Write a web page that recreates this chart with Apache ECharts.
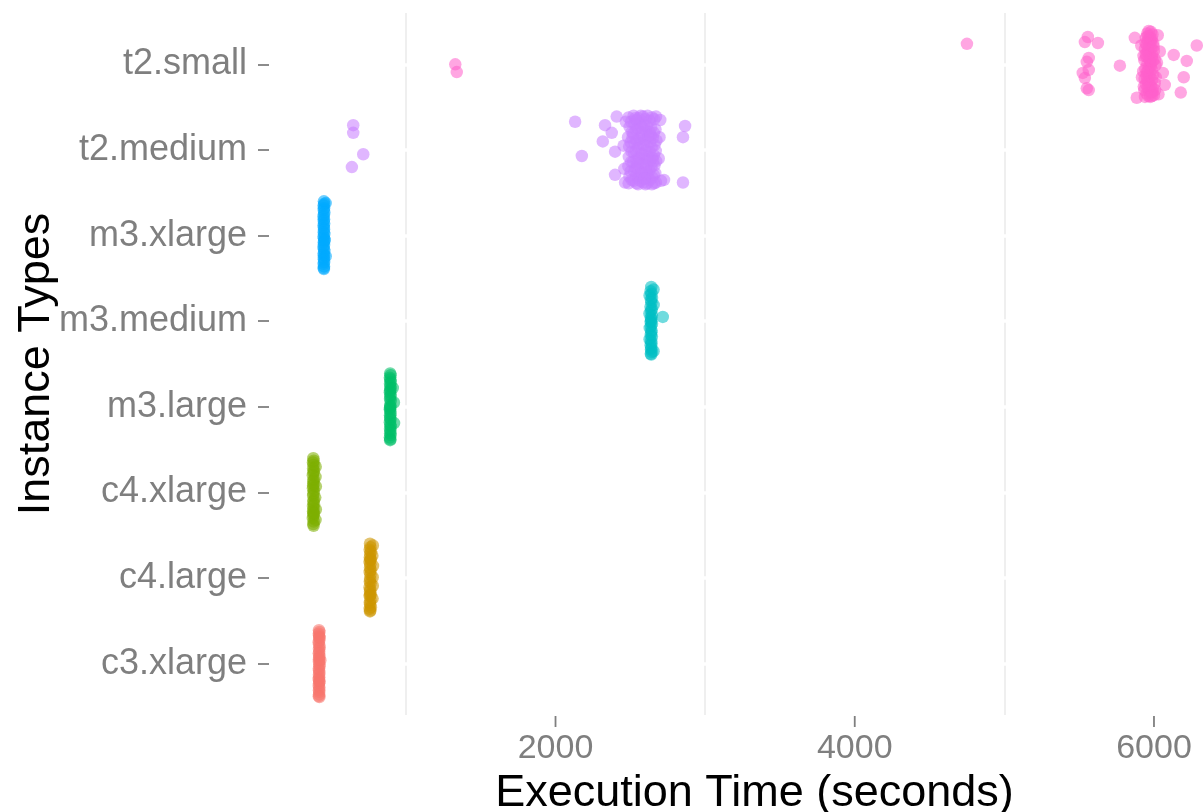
<!DOCTYPE html>
<html>
<head>
<meta charset="utf-8">
<script src="https://cdn.jsdelivr.net/npm/echarts@6/dist/echarts.min.js"></script>
<style>
html,body{margin:0;padding:0;background:#fff;}
#chart{width:1203px;height:812px;}
</style>
</head>
<body>
<div id="chart"></div>
<script>
// Categories, bottom to top
const categories = ['c3.xlarge','c4.large','c4.xlarge','m3.large','m3.medium','m3.xlarge','t2.medium','t2.small'];
const xTickValues = [2000, 4000, 6000];
const xMinorGrid = [1000, 3000, 5000];

// [execution seconds, vertical jitter]
const c3xlarge = [[419,0.39],[422,0.37],[420,0.33],[418,0.35],[423,0.30],[421,0.27],[417,0.25],[420,0.22],[424,0.19],[419,0.17],[421,0.14],[418,0.12],[422,0.09],[420,0.07],[428,0.04],[419,0.02],[421,-0.01],[423,-0.03],[418,-0.06],[420,-0.08],[422,-0.11],[419,-0.13],[421,-0.16],[417,-0.18],[423,-0.21],[420,-0.23],[418,-0.26],[422,-0.28],[419,-0.31],[421,-0.33],[420,-0.36],[418,-0.38],[422,-0.39],[421,0.31],[419,0.05],[420,-0.20]];
const c4large = [[760,0.40],[779,0.38],[763,0.36],[758,0.33],[766,0.31],[761,0.28],[776,0.26],[759,0.24],[764,0.21],[757,0.19],[762,0.16],[780,0.14],[760,0.12],[765,0.09],[758,0.07],[763,0.04],[778,0.01],[761,-0.01],[759,-0.04],[764,-0.06],[779,-0.09],[757,-0.11],[762,-0.14],[760,-0.16],[765,-0.19],[758,-0.21],[777,-0.24],[763,-0.26],[759,-0.29],[761,-0.31],[766,-0.34],[758,-0.36],[762,-0.38],[760,-0.39],[764,0.22],[761,-0.20]];
const c4xlarge = [[381,0.40],[384,0.37],[379,0.35],[383,0.32],[397,0.30],[380,0.28],[385,0.25],[382,0.23],[396,0.18],[378,0.20],[384,0.15],[381,0.13],[398,0.07],[383,0.10],[379,0.05],[385,0.02],[382,-0.01],[394,-0.06],[380,-0.04],[384,-0.09],[381,-0.11],[386,-0.14],[379,-0.16],[398,-0.20],[383,-0.19],[380,-0.22],[385,-0.25],[382,-0.27],[396,-0.32],[378,-0.30],[384,-0.34],[381,-0.37],[383,-0.39],[380,0.08],[382,-0.24]];
const m3large = [[895,0.39],[898,0.37],[893,0.34],[896,0.32],[899,0.29],[894,0.27],[897,0.24],[912,0.22],[895,0.19],[893,0.17],[898,0.14],[896,0.12],[894,0.09],[899,0.07],[920,0.05],[895,0.02],[897,0.00],[893,-0.03],[896,-0.05],[898,-0.08],[894,-0.10],[895,-0.13],[897,-0.15],[921,-0.19],[893,-0.18],[896,-0.21],[899,-0.23],[894,-0.26],[897,-0.28],[895,-0.31],[898,-0.33],[893,-0.36],[896,-0.38],[895,-0.39],[897,0.21],[894,-0.01]];
const m3medium = [[2640,0.40],[2655,0.37],[2636,0.35],[2642,0.32],[2629,0.30],[2645,0.27],[2638,0.25],[2641,0.22],[2656,0.19],[2635,0.17],[2643,0.14],[2639,0.12],[2628,0.09],[2644,0.07],[2637,0.04],[2717,0.05],[2641,0.02],[2636,-0.01],[2645,-0.03],[2638,-0.06],[2630,-0.08],[2642,-0.11],[2640,-0.13],[2637,-0.16],[2644,-0.18],[2629,-0.21],[2639,-0.23],[2642,-0.26],[2636,-0.28],[2641,-0.31],[2638,-0.33],[2643,-0.36],[2637,-0.38],[2640,-0.39],[2655,-0.35],[2639,0.00]];
const m3xlarge = [[452,0.40],[454,0.37],[450,0.35],[453,0.32],[451,0.30],[464,0.38],[455,0.27],[452,0.24],[449,0.22],[453,0.19],[451,0.17],[454,0.14],[450,0.12],[452,0.09],[453,0.07],[451,0.04],[455,0.02],[450,-0.01],[452,-0.03],[454,-0.06],[451,-0.08],[453,-0.11],[449,-0.13],[452,-0.16],[455,-0.18],[450,-0.21],[464,-0.24],[453,-0.23],[451,-0.26],[452,-0.28],[454,-0.31],[450,-0.33],[453,-0.36],[451,-0.38],[452,-0.39],[458,-0.05]];
const t2medium = [
  [2488,0.38],[2495,0.27],[2485,0.15],[2492,0.04],[2490,-0.08],[2487,-0.19],[2494,-0.31],[2489,-0.39],
  [2505,0.33],[2510,0.21],[2503,0.09],[2508,-0.02],[2506,-0.14],[2502,-0.25],[2509,-0.35],
  [2522,0.40],[2528,0.30],[2520,0.19],[2530,0.08],[2524,-0.03],[2519,-0.14],[2527,-0.25],[2523,-0.36],
  [2540,0.35],[2537,0.24],[2543,0.11],[2538,-0.01],[2541,-0.12],[2536,-0.21],[2540,-0.30],[2542,-0.39],
  [2555,0.37],[2550,0.25],[2560,0.13],[2553,0.02],[2558,-0.10],[2549,-0.22],[2556,-0.33],[2552,-0.40],
  [2570,0.40],[2567,0.31],[2572,0.20],[2569,0.08],[2571,-0.04],[2566,-0.15],[2573,-0.26],[2568,-0.36],
  [2585,0.39],[2590,0.29],[2580,0.17],[2588,0.06],[2583,-0.05],[2592,-0.16],[2581,-0.28],[2587,-0.38],
  [2600,0.36],[2603,0.22],[2598,0.12],[2602,-0.01],[2599,-0.10],[2604,-0.22],[2597,-0.33],[2601,-0.40],
  [2615,0.40],[2611,0.28],[2620,0.16],[2613,0.05],[2618,-0.07],[2610,-0.18],[2617,-0.30],[2614,-0.39],
  [2630,0.34],[2628,0.21],[2633,0.09],[2629,-0.02],[2632,-0.13],[2627,-0.24],[2631,-0.35],
  [2645,0.38],[2640,0.26],[2650,0.14],[2643,0.03],[2648,-0.09],[2641,-0.20],[2647,-0.32],[2644,-0.40],
  [2660,0.36],[2657,0.20],[2662,0.06],[2658,-0.06],[2661,-0.18],[2656,-0.29],[2659,-0.39],
  [2672,0.39],[2668,0.24],[2675,0.11],[2670,-0.01],[2673,-0.13],[2667,-0.27],[2671,-0.38],
  [2515,0.14],[2548,-0.16],[2578,0.26],[2608,-0.27],[2636,0.17],[2653,-0.13],[2532,0.37],[2594,-0.33],
  [2470,0.33],[2460,-0.22],[2700,0.35],[2705,-0.36],[2455,0.05],[2690,-0.10],[2465,-0.38],[2695,0.15],
  [2131,0.33],[2176,-0.07],[2331,0.29],[2316,0.10],[2376,0.20],[2398,-0.02],[2398,-0.29],[2409,0.39],
  [2866,0.28],[2852,0.15],[2852,-0.38],[2725,-0.35],
  [648,0.29],[648,0.20],[715,-0.05],[639,-0.20]
];
const t2small = [
  [5965,0.39],[5980,0.38],[5955,0.36],[5990,0.35],[5970,0.33],[5945,0.31],[5985,0.30],[5960,0.28],[5975,0.26],[5995,0.25],
  [5950,0.23],[5968,0.21],[5982,0.19],[5940,0.18],[6000,0.16],[5958,0.14],[5972,0.12],[5988,0.11],[5948,0.09],[5965,0.07],
  [5935,0.05],[5992,0.04],[5978,0.02],[5955,0.00],[6010,-0.01],[5968,-0.03],[5942,-0.05],[5985,-0.06],[5960,-0.08],[5975,-0.10],
  [5995,-0.12],[5950,-0.13],[5970,-0.15],[5938,-0.17],[5988,-0.18],[5962,-0.20],[6005,-0.22],[5945,-0.23],[5978,-0.25],[5958,-0.27],
  [5992,-0.28],[5935,-0.30],[5968,-0.31],[5982,-0.33],[5950,-0.34],[6000,-0.36],[5962,-0.37],[5940,-0.38],[5975,-0.38],[5985,0.08],
  [5955,-0.18],[5972,0.30],[5960,0.17],[5978,-0.02],[5952,-0.09],[5983,0.27],[5966,-0.24],[5945,0.12],[5990,-0.32],[5973,0.05],
  [5930,0.10],[6005,0.06],[5928,-0.08],[6012,-0.15],[5932,-0.26],[6008,-0.30],[5998,0.21],[5943,0.25],[5957,0.33],[5987,-0.37],
  [5872,0.31],[6039,0.15],[6059,-0.10],[6072,-0.24],[5885,-0.39],[6025,0.34],[6030,-0.35],[5915,0.22],[5920,-0.15],[6020,0.02],
  [5558,0.32],[5538,0.26],[5625,0.25],[5564,0.075],[5551,0.03],[5564,-0.065],[5524,-0.10],[5538,-0.16],[5551,-0.28],[5564,-0.30],
  [5772,-0.015],[6132,0.11],[6219,0.04],[6286,0.22],[6199,-0.15],[6179,-0.33],
  [4750,0.24],[1330,0.00],[1340,-0.09]
];

const groups = [c3xlarge, c4large, c4xlarge, m3large, m3medium, m3xlarge, t2medium, t2small];
const colors = ['#F8766D','#CD9600','#7CAE00','#00BE67','#00BFC4','#00A9FF','#C77CFF','#FF61CC'];
const catIndex = categories.map((c, i) => i);
const yMin = -0.6, yMax = 7.6;

const FONT = '"Liberation Sans", Arial, Helvetica, sans-serif';

const chart = echarts.init(document.getElementById('chart'), null, {renderer: 'canvas'});

const series = [
  {
    name: 'minorGrid', type: 'scatter', data: [], z: 1, silent: true,
    markLine: {
      silent: true, symbol: ['none','none'], animation: false, z: 1,
      label: {show: false},
      lineStyle: {color: '#EBEBEB', width: 1.6, type: 'solid'},
      emphasis: {disabled: true},
      data: xMinorGrid.map(v => ({xAxis: v}))
    }
  },
  {
    name: 'majorGridY', type: 'scatter', data: [], z: 1, silent: true,
    markLine: {
      silent: true, symbol: ['none','none'], animation: false, z: 1.5,
      label: {show: false},
      lineStyle: {color: '#FFFFFF', width: 3.5, type: 'solid'},
      emphasis: {disabled: true},
      data: catIndex.map(v => ({yAxis: v}))
    }
  },
  {
    // x-axis tick marks, placed through the axis scale
    name: 'xTicks', type: 'custom', silent: true, clip: false, z: 3,
    data: xTickValues.map(v => [v, yMin]),
    encode: {x: 0, y: 1},
    renderItem: (params, api) => {
      const p = api.coord([api.value(0), api.value(1)]);
      return {
        type: 'line',
        shape: {x1: p[0], y1: p[1] + 1, x2: p[0], y2: p[1] + 12},
        style: {stroke: '#7F7F7F', lineWidth: 1.8}
      };
    }
  }
];
groups.forEach((g, i) => {
  series.push({
    name: categories[i], type: 'scatter', z: 3,
    symbol: 'circle', symbolSize: 12.5,
    itemStyle: {color: colors[i], opacity: 0.56},
    emphasis: {disabled: true},
    data: g.map(([t, j]) => [t, i + j])
  });
});

chart.setOption({
  animation: false,
  backgroundColor: '#fff',
  grid: {left: 269, right: -37, top: 13, bottom: 97, containLabel: false, outerBoundsMode: 'none'},
  xAxis: {
    type: 'value', min: 85, max: 6575, position: 'bottom',
    axisLine: {show: false, onZero: false},
    axisTick: {show: false},
    minorTick: {show: false},
    axisLabel: {customValues: xTickValues, formatter: v => String(v), fontSize: 34, color: '#7F7F7F', margin: 17, fontFamily: FONT},
    splitLine: {show: false},
    name: 'Execution Time (seconds)', nameLocation: 'middle', nameGap: 56, nameMoveOverlap: false,
    nameTextStyle: {fontSize: 45, color: '#000', fontFamily: FONT}
  },
  yAxis: {
    type: 'value', min: yMin, max: yMax, position: 'left',
    axisLine: {show: false, onZero: false},
    axisTick: {show: true, inside: false, customValues: catIndex, length: 11, lineStyle: {color: '#7F7F7F', width: 1.8}},
    axisLabel: {customValues: catIndex, formatter: v => categories[Math.round(v)], fontSize: 36, color: '#7F7F7F', margin: 22, fontFamily: FONT},
    splitLine: {show: false},
    name: 'Instance Types', nameLocation: 'middle', nameRotate: 90, nameGap: 210, nameMoveOverlap: false,
    nameTextStyle: {fontSize: 45, color: '#000', fontFamily: FONT}
  },
  series: series
});
</script>
</body>
</html>
